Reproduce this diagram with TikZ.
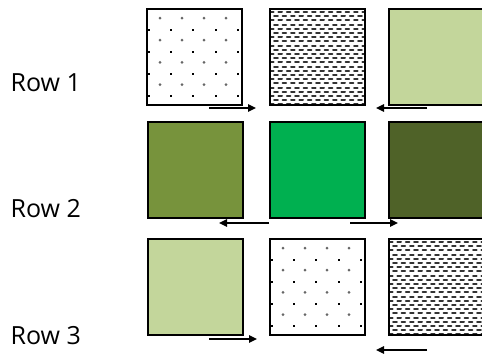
\documentclass[tikz,border=0pt]{standalone}
\usepackage{fontspec}
\setmainfont{Open Sans}
\usetikzlibrary{arrows.meta}
\definecolor{lightgreen}{HTML}{C3D69B}
\definecolor{olivegreen}{HTML}{77933C}
\definecolor{brightgreen}{HTML}{00B050}
\definecolor{darkolive}{HTML}{4F6228}
\tikzset{
  tile/.style={draw=black, line width=2pt, rectangle, minimum width=95pt, minimum height=96pt, inner sep=0pt, anchor=north west},
  dotfill/.style={path picture={
    \foreach \k in {0,...,3}{
      \foreach \j in {0,...,3}{
        \fill[black!60] ([xshift=\j*22pt+13pt, yshift=-\k*22.2pt-9pt]path picture bounding box.north west) circle (1.5pt);
      }
      \foreach \j in {0,...,4}{
        \fill[black] ([xshift=\j*22.2pt+1pt, yshift=-\k*22.2pt-19.5pt]path picture bounding box.north west) rectangle ++(2pt,-2pt);
      }
    }}},
  hatchfill/.style={path picture={
    \foreach \r in {0,...,22}{
      \pgfmathsetmacro{\off}{mod(\r,2)*4.2}
      \draw[black!80, line width=2pt, line cap=round, dash pattern=on 3.6pt off 4.8pt, dash phase=\off pt]
        ([yshift=-\r*4.2pt-3pt]path picture bounding box.north west) -- ++(100pt,0);
    }}},
  rowlabel/.style={anchor=base west, inner sep=0pt, font=\fontsize{25}{30}\selectfont},
  flow/.style={line width=1.6pt, -{Triangle[length=8pt,width=7.5pt]}}
}
\begin{document}
\begin{tikzpicture}[x=1pt,y=-1pt]
\useasboundingbox (0,0) rectangle (482,354);
\clip (0,0) rectangle (482,354);
% labels
\node[rowlabel] (l1) at (10.5,91.7) {Row 1};
\node[rowlabel] (l2) at (10.5,217) {Row 2};
\node[rowlabel] (l3) at (10.5,344.5) {Row 3};
% row 1
\node[tile, fill=white, dotfill] (a1) at (146,8) {};
\node[tile, fill=white, hatchfill] (a2) at (269,8) {};
\node[tile, fill=lightgreen] (a3) at (388,8) {};
% row 2
\node[tile, fill=olivegreen] (b1) at (147,121) {};
\node[tile, fill=brightgreen] (b2) at (269,121) {};
\node[tile, fill=darkolive] (b3) at (388,121) {};
% row 3
\node[tile, fill=lightgreen] (c1) at (147,238) {};
\node[tile, fill=white, dotfill] (c2) at (269,238) {};
\node[tile, fill=white, hatchfill] (c3) at (388,238) {};
% arrow end points
\coordinate (r1s) at (209,108); \coordinate (r1e) at (256,108);
\coordinate (r2s) at (427,108); \coordinate (r2e) at (376,108);
\coordinate (r3s) at (269,223); \coordinate (r3e) at (219,223);
\coordinate (r4s) at (350,223); \coordinate (r4e) at (398,223);
\coordinate (r5s) at (209,339); \coordinate (r5e) at (257,339);
\coordinate (r6s) at (427,350); \coordinate (r6e) at (376,350);
\draw[flow] (r1s) -- (r1e);
\draw[flow] (r2s) -- (r2e);
\draw[flow] (r3s) -- (r3e);
\draw[flow] (r4s) -- (r4e);
\draw[flow] (r5s) -- (r5e);
\draw[flow] (r6s) -- (r6e);
\end{tikzpicture}
\end{document}
